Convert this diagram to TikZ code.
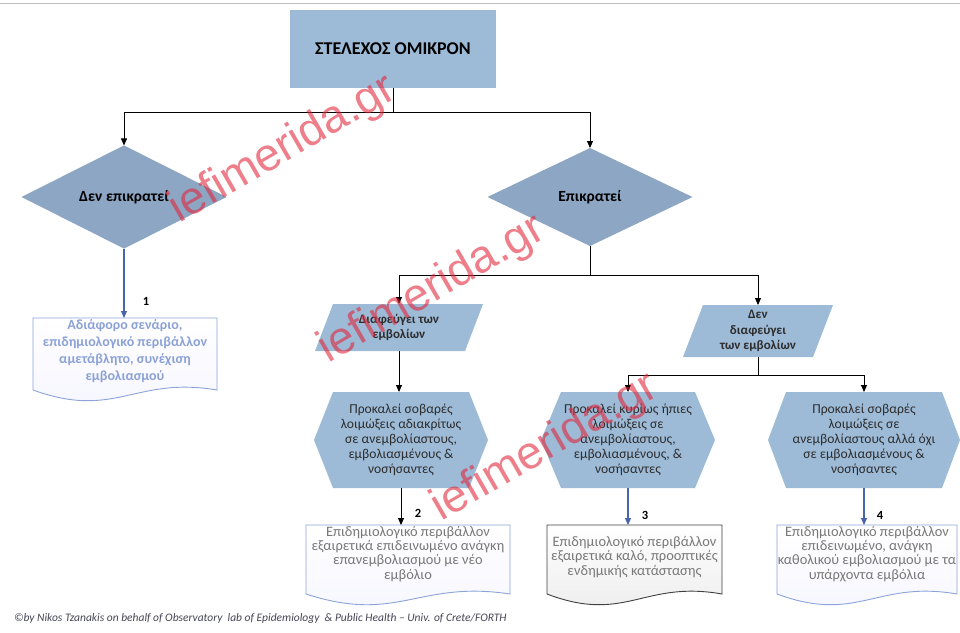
\documentclass[tikz,border=0pt]{standalone}
\usepackage{fontspec}
\setmainfont{Carlito}
\newfontfamily\wmfont{Liberation Sans}
\usetikzlibrary{shapes.geometric,arrows.meta,backgrounds,calc}
\definecolor{boxblue}{RGB}{157,187,215}
\definecolor{diablue}{RGB}{141,166,195}
\definecolor{arrblue}{RGB}{72,100,172}
\definecolor{docblue}{RGB}{140,164,218}
\definecolor{doctext}{RGB}{120,120,120}
\definecolor{doconetext}{RGB}{140,162,214}
\definecolor{hextext}{RGB}{45,45,45}
\definecolor{wmred}{RGB}{225,40,60}
\definecolor{footgray}{RGB}{70,70,85}
\newcommand\mydocpath[3]{%
  \path[#3] let \p1=(#1.south west), \p2=(#1.north east) in
  (\x1,\y2) -- (\x2,\y2) -- (\x2,\y1-#2)
  .. controls (0.45*\x1+0.55*\x2, \y1-#2+14pt) and (0.55*\x1+0.45*\x2, \y1-#2-30pt) ..
  (\x1,\y1-#2) -- cycle;}
\newcommand\myhexpath[2]{%
  \path[boxfill] ($(#1.north west)+(#2,0)$) -- ($(#1.north east)+(-#2,0)$) -- (#1.east)
  -- ($(#1.south east)+(-#2,0)$) -- ($(#1.south west)+(#2,0)$) -- (#1.west) -- cycle;}
\newcommand\myparpath[2]{%
  \path[boxfill] ($(#1.north west)+(#2,0)$) -- (#1.north east)
  -- ($(#1.south east)+(-#2,0)$) -- (#1.south west) -- cycle;}
\begin{document}
\begin{tikzpicture}[x=1pt,y=-1pt,
  boxfill/.style={fill=boxblue,draw=none},
  plain/.style={inner sep=0pt,outer sep=0pt,align=center},
  topbox/.style={plain,fill=boxblue,minimum width=206pt,minimum height=78pt,font=\fontsize{18}{21}\selectfont\bfseries},
  decision/.style={diamond,plain,fill=diablue,minimum width=205pt,minimum height=98pt,font=\fontsize{15.5}{18}\selectfont\bfseries},
  partext/.style={plain,minimum height=47pt,font=\fontsize{13}{15.5}\selectfont\bfseries,text=hextext},
  hextxt/.style={plain,minimum height=96pt,font=\fontsize{13.6}{15}\selectfont,text=hextext},
  doctxt/.style={plain,anchor=north,font=\fontsize{14.4}{14.3}\selectfont,text=doctext},
  docblueline/.style={draw=docblue,line width=0.9pt,top color=white,bottom color=blue!4},
  docgrayline/.style={draw=black!75,line width=0.9pt,top color=white,bottom color=black!8},
  arr/.style={draw=black,line width=0.9pt,-{Triangle[length=7pt,width=6pt]}},
  barr/.style={draw=arrblue,line width=1.1pt,-{Triangle[length=7pt,width=6pt]}},
  num/.style={plain,font=\fontsize{12.5}{14}\selectfont\bfseries},
  wm/.style={plain,font=\wmfont\fontsize{46}{50}\selectfont,text=wmred,opacity=0.6,rotate=30}
]
\useasboundingbox (0,0) rectangle (960,632);

% top
\node[topbox] (top) at (393,49) {ΣΤΕΛΕΧΟΣ ΟΜΙΚΡΟΝ};
% decisions
\node[decision] (d1) at (124,197) {Δεν επικρατεί};
\node[decision] (d2) at (590,197) {Επικρατεί};
% parallelograms
\node[partext,minimum width=168pt] (p1) at (399,327.5) {Διαφεύγει των\\εμβολίων};
\node[partext,minimum width=150pt,minimum height=52pt] (p2) at (758,331) {Δεν\\διαφεύγει\\των εμβολίων};
% hexagons
\node[hextxt,minimum width=174pt] (h1) at (401,440) {Προκαλεί σοβαρές\\λοιμώξεις αδιακρίτως\\σε ανεμβολίαστους,\\εμβολιασμένους \&\\νοσήσαντες};
\node[hextxt,minimum width=174pt] (h2) at (628,440) {Προκαλεί κυρίως ήπιες\\λοιμώξεις σε\\ανεμβολίαστους,\\εμβολιασμένους, \&\\νοσήσαντες};
\node[hextxt,minimum width=192pt] (h3) at (864,440) {Προκαλεί σοβαρές\\λοιμώξεις σε\\ανεμβολίαστους αλλά όχι\\σε εμβολιασμένους \&\\νοσήσαντες};
% documents
\node[doctxt,minimum width=184pt,minimum height=66pt,font=\fontsize{14}{17}\selectfont\bfseries,text=doconetext] (doc1) at (125,318) {Αδιάφορο σενάριο,\\επιδημιολογικό περιβάλλον\\αμετάβλητο, συνέχιση\\εμβολιασμού};
\node[doctxt,minimum width=204pt,minimum height=58pt] (doc2) at (408,525) {Επιδημιολογικό περιβάλλον\\εξαιρετικά επιδεινωμένο ανάγκη\\επανεμβολιασμού με νέο\\εμβόλιο};
\node[doctxt,minimum width=175pt,minimum height=64pt] (doc3) at (634.5,525) {Επιδημιολογικό περιβάλλον\\εξαιρετικά καλό, προοπτικές\\ενδημικής κατάστασης};
\node[doctxt,minimum width=180pt,minimum height=58pt] (doc4) at (867,525) {Επιδημιολογικό περιβάλλον\\επιδεινωμένο, ανάγκη\\καθολικού εμβολιασμού με τα\\υπάρχοντα εμβόλια};

\begin{pgfonlayer}{background}
  \fill[white] (0,0) rectangle (960,632);
  \draw[black!25,line width=1pt] (0,3) -- (960,3);
  \myparpath{p1}{18}
  \myparpath{p2}{20}
  \myhexpath{h1}{19}
  \myhexpath{h2}{20}
  \myhexpath{h3}{18}
  \mydocpath{doc1}{6pt}{docblueline}
  \mydocpath{doc2}{11pt}{docblueline}
  \mydocpath{doc3}{5pt}{docgrayline}
  \mydocpath{doc4}{11pt}{docblueline}
\end{pgfonlayer}

% connectors
\coordinate (j1) at ($(top.south)+(0,24)$);
\draw[arr] (top.south) -- (j1) -| (d1.north);
\draw[arr] (j1) -| (d2.north);
\draw[barr] (d1.south) -- (d1.south |- doc1.north);
\coordinate (j2) at ($(d2.south)+(0,29)$);
\draw[arr] (d2.south) -- (j2) -| (p1.north);
\draw[arr] (j2) -| (p2.north);
\draw[arr] (p1.south) -- (p1.south |- h1.north);
\coordinate (j3) at ($(p2.south)+(0,18)$);
\draw[arr] (p2.south) -- (j3) -| (h2.north);
\draw[arr] (j3) -| (h3.north);
\draw[arr] (h1.south) -- (h1.south |- doc2.north);
\draw[barr] (h2.south) -- (h2.south |- doc3.north);
\draw[barr] (h3.south) -- (h3.south |- doc4.north);

% numbers
\node[num] (n1) at (146,301) {1};
\node[num] (n2) at (418,513) {2};
\node[num] (n3) at (645,515) {3};
\node[num] (n4) at (880,515) {4};

% footer
\node[plain,anchor=west,font=\fontsize{11.5}{13}\selectfont\itshape,text=footgray] (foot) at (14,618) {©by Nikos Tzanakis on behalf of Observatory\ \ lab of Epidemiology\ \ \& Public Health – Univ. of Crete/FORTH};

% watermarks
\node[wm] (w1) at (283,150) {iefimerida.gr};
\node[wm] (w2) at (432,290) {iefimerida.gr};
\node[wm] (w3) at (545,448) {iefimerida.gr};
\end{tikzpicture}
\end{document}
